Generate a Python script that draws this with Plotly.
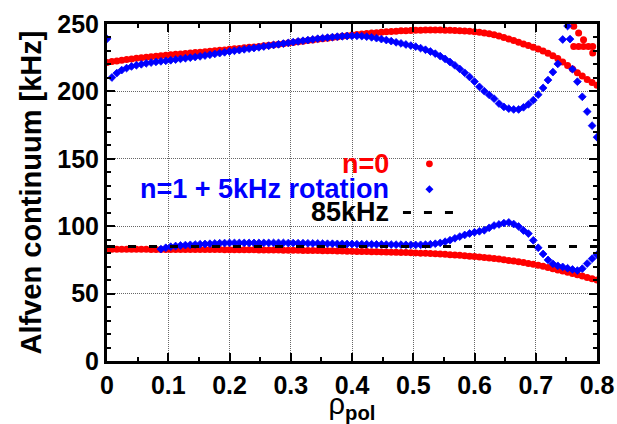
import plotly.graph_objects as go

# Radial grid (rho_pol) shared by the continuum branches
rho_grid = [
    0.000, 0.008, 0.016, 0.024, 0.032, 0.040, 0.048, 0.056, 0.064, 0.072,
    0.080, 0.088, 0.096, 0.104, 0.112, 0.120, 0.128, 0.136, 0.144, 0.152,
    0.160, 0.168, 0.176, 0.184, 0.192, 0.200, 0.208, 0.216, 0.224, 0.232,
    0.240, 0.248, 0.256, 0.264, 0.272, 0.280, 0.288, 0.296, 0.304, 0.312,
    0.320, 0.328, 0.336, 0.344, 0.352, 0.360, 0.368, 0.376, 0.384, 0.392,
    0.400, 0.408, 0.416, 0.424, 0.432, 0.440, 0.448, 0.456, 0.464, 0.472,
    0.480, 0.488, 0.496, 0.504, 0.512, 0.520, 0.528, 0.536, 0.544, 0.552,
    0.560, 0.568, 0.576, 0.584, 0.592, 0.600, 0.608, 0.616, 0.624, 0.632,
    0.640, 0.648, 0.656, 0.664, 0.672, 0.680, 0.688, 0.696, 0.704, 0.712,
    0.720, 0.728, 0.736, 0.744, 0.752, 0.760, 0.768, 0.776, 0.784, 0.792,
    0.800,
]

# n=0 continuum, upper branch [kHz]
n0_upper = [
    221.5, 222.1, 222.6, 223.1, 223.6, 224.1, 224.5, 224.9, 225.3, 225.7,
    226.1, 226.4, 226.8, 227.1, 227.5, 227.8, 228.1, 228.4, 228.8, 229.1,
    229.4, 229.8, 230.1, 230.5, 230.8, 231.2, 231.6, 231.9, 232.3, 232.7,
    233.0, 233.4, 233.8, 234.2, 234.6, 235.0, 235.4, 235.9, 236.3, 236.8,
    237.2, 237.7, 238.1, 238.6, 239.0, 239.5, 240.0, 240.4, 240.9, 241.3,
    241.8, 242.2, 242.6, 242.9, 243.3, 243.6, 243.9, 244.2, 244.4, 244.7,
    244.9, 245.0, 245.2, 245.3, 245.4, 245.5, 245.5, 245.5, 245.5, 245.4,
    245.4, 245.2, 245.0, 244.8, 244.6, 244.3, 243.9, 243.4, 242.8, 242.0,
    241.1, 240.0, 238.9, 237.7, 236.5, 235.2, 234.0, 232.8, 231.5, 230.0,
    228.3, 226.5, 224.4, 221.8, 219.3, 216.6, 213.9, 211.4, 208.9, 206.6,
    204.5,
]

# n=0 continuum, lower branch [kHz]
n0_lower = [
    82.9, 82.9, 82.9, 82.9, 82.9, 82.9, 82.9, 82.9, 82.9, 82.8,
    82.8, 82.8, 82.8, 82.8, 82.8, 82.8, 82.8, 82.8, 82.7, 82.7,
    82.7, 82.7, 82.7, 82.7, 82.6, 82.6, 82.6, 82.6, 82.5, 82.5,
    82.5, 82.4, 82.4, 82.4, 82.3, 82.3, 82.2, 82.2, 82.1, 82.1,
    82.0, 82.0, 81.9, 81.9, 81.8, 81.8, 81.7, 81.6, 81.6, 81.5,
    81.4, 81.3, 81.2, 81.2, 81.1, 81.0, 80.9, 80.8, 80.7, 80.6,
    80.5, 80.4, 80.3, 80.2, 80.0, 79.9, 79.7, 79.5, 79.3, 79.1,
    78.9, 78.6, 78.4, 78.1, 77.8, 77.5, 77.1, 76.8, 76.4, 76.0,
    75.6, 75.1, 74.6, 74.1, 73.6, 73.0, 72.4, 71.7, 71.0, 70.2,
    69.4, 68.5, 67.6, 66.7, 65.8, 64.9, 64.0, 63.0, 62.0, 61.0,
    60.0,
]

# n=0 points off the main branches near the edge
n0_extra_rho = [0.762, 0.770, 0.778, 0.762, 0.770, 0.778, 0.786, 0.793, 0.793]
n0_extra_khz = [248.3, 243.3, 238.3, 233.4, 233.4, 233.4, 233.4, 233.4, 228.4]

# n=1 continuum (Doppler shifted by 5 kHz), upper branch [kHz]
n1_upper = [
    239.0, 210.3, 213.6, 215.8, 217.3, 218.5, 219.4, 220.1, 220.8, 221.4,
    221.9, 222.3, 222.7, 223.1, 223.6, 224.1, 224.6, 225.0, 225.5, 226.0,
    226.6, 227.2, 227.8, 228.4, 229.0, 229.6, 230.1, 230.6, 231.2, 231.7,
    232.2, 232.7, 233.3, 233.8, 234.4, 234.9, 235.5, 236.0, 236.6, 237.1,
    237.6, 238.1, 238.6, 239.1, 239.5, 239.9, 240.3, 240.6, 240.9, 241.1,
    241.2, 241.2, 241.0, 240.6, 240.1, 239.5, 238.8, 238.1, 237.3, 236.4,
    235.6, 234.8, 234.0, 233.2, 232.1, 230.9, 229.6, 228.0, 226.2, 224.1,
    221.8, 219.3, 216.6, 213.8, 210.7, 207.3, 203.4, 200.2, 197.4, 194.6,
    191.0, 188.5, 187.2, 186.6, 186.6, 188.2, 190.4, 193.5, 197.6, 202.6,
    208.4, 214.3, 220.4, 238.5, 248.5, 216.5, 207.2, 196.0, 185.0, 174.6,
    166.0,
]

# n=1 continuum, lower branch [kHz] (None where no point)
n1_lower = [
    None, None, None, None, None, None, None, None, None, None,
    None, 83.0, 84.0, 84.8, 85.3, 85.7, 86.0, 86.2, 86.4, 86.6,
    86.8, 87.0, 87.2, 87.4, 87.5, 87.6, 87.6, 87.6, 87.6, 87.6,
    87.6, 87.6, 87.6, 87.6, 87.6, 87.6, 87.6, 87.5, 87.5, 87.4,
    87.4, 87.3, 87.2, 87.2, 87.1, 87.0, 87.0, 86.9, 86.9, 86.8,
    86.8, 86.7, 86.7, 86.6, 86.6, 86.5, 86.5, 86.4, 86.4, 86.3,
    86.3, 86.2, 86.2, 86.1, 86.2, 86.3, 86.6, 87.0, 87.6, 88.5,
    89.6, 91.0, 92.3, 93.5, 94.6, 95.5, 96.2, 97.0, 98.8, 100.5,
    101.3, 102.3, 102.8, 101.6, 99.8, 96.8, 94.5, 89.5, 84.0, 79.4,
    75.0, 72.1, 70.6, 69.8, 68.8, 67.9, 67.1, 68.5, 72.3, 75.9,
    78.8,
]

n1_extra_rho = [0.756]
n1_extra_khz = [238.8]

# Reference frequency line
ref_khz = 85.0
rho_range = [0.0, 0.8]
khz_range = [0.0, 250.0]

labels = ["n=0", "n=1 + 5kHz rotation", "85kHz"]
RED = "#ff0000"
BLUE = "#0000ff"
FONT = "Liberation Sans"

fig = go.Figure()

fig.add_trace(go.Scatter(
    x=rho_grid + rho_grid + n0_extra_rho,
    y=n0_upper + n0_lower + n0_extra_khz,
    mode="markers", name=labels[0],
    marker=dict(color=RED, size=7, symbol="circle", line=dict(width=0)),
))
fig.add_trace(go.Scatter(
    x=rho_grid + rho_grid + n1_extra_rho,
    y=n1_upper + n1_lower + n1_extra_khz,
    mode="markers", name=labels[1],
    marker=dict(color=BLUE, size=6, symbol="diamond", line=dict(width=0.8, color=BLUE)),
))
fig.add_trace(go.Scatter(
    x=rho_range, y=[ref_khz, ref_khz],
    mode="lines", name=labels[2],
    line=dict(color="black", width=3, dash="8px,13px"),
))

# Key: right-aligned labels followed by their sample glyphs (plot-area fractions)
key_text_x = 0.578
key_glyph_x = 0.658
key_y = [0.585, 0.510, 0.441]
key_colors = [RED, BLUE, "black"]

for lab, yy, col in zip(labels, key_y, key_colors):
    fig.add_annotation(
        x=key_text_x, y=yy, xref="paper", yref="paper", text=lab, showarrow=False,
        xanchor="right", yanchor="middle", height=22, borderpad=0,
        font=dict(family=FONT, size=27, color=col, weight="bold"),
    )

fig.add_shape(type="circle", xref="paper", yref="paper",
              xsizemode="pixel", ysizemode="pixel",
              xanchor=key_glyph_x, yanchor=key_y[0],
              x0=-3.4, x1=3.4, y0=-3.4, y1=3.4,
              fillcolor=RED, line=dict(width=0))
fig.add_shape(type="path", xref="paper", yref="paper",
              xsizemode="pixel", ysizemode="pixel",
              xanchor=key_glyph_x, yanchor=key_y[1],
              path="M0,4 L4,0 L0,-4 L-4,0 Z",
              fillcolor=BLUE, line=dict(width=0))
fig.add_shape(type="line", xref="paper", yref="paper",
              x0=0.604, x1=0.712, y0=key_y[2], y1=key_y[2],
              line=dict(color="black", width=3, dash="8px,13px"))

axis_common = dict(
    showline=True, linewidth=3, linecolor="black", mirror="allticks",
    ticks="inside", ticklen=8, tickwidth=2, tickcolor="black",
    showgrid=True, gridcolor="#666666", gridwidth=1, griddash="1px,1px",
    zeroline=False, automargin=False,
    tickfont=dict(family=FONT, size=25, color="black", weight="bold"),
)

fig.update_layout(
    width=617, height=424,
    margin=dict(l=107, r=20, t=24, b=63, autoexpand=False),
    paper_bgcolor="white", plot_bgcolor="white",
    xaxis=dict(
        range=rho_range, tick0=0, dtick=0.1,
        minor=dict(dtick=0.05, ticks="inside", ticklen=4, tickwidth=2, tickcolor="black", showgrid=False),
        title=dict(text="ρ<sub><b>pol</b></sub>", standoff=10,
                   font=dict(family=FONT, size=29, color="black", weight="normal")),
        **axis_common,
    ),
    yaxis=dict(
        range=khz_range, tick0=0, dtick=50,
        minor=dict(dtick=10, ticks="inside", ticklen=4, tickwidth=2, tickcolor="black", showgrid=False),
        title=dict(text="Alfven continuum [kHz]", standoff=8,
                   font=dict(family=FONT, size=29, color="black", weight="bold")),
        **axis_common,
    ),
    showlegend=False,
)

fig.write_html("out.html")
